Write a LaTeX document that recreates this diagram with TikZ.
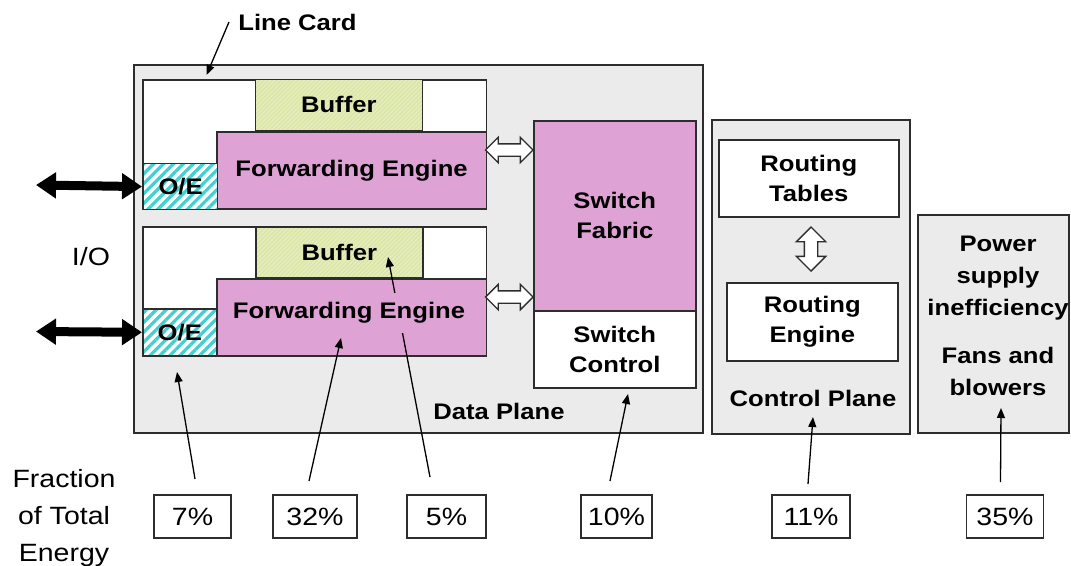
\documentclass[tikz,border=0pt]{standalone}
\usepackage{fontspec}
\setmainfont[FakeStretch=1.14]{Liberation Sans}
\usetikzlibrary{shapes.arrows,patterns.meta,arrows.meta,calc}
\definecolor{bggray}{RGB}{235,235,235}
\definecolor{edge}{RGB}{45,45,45}
\definecolor{fepink}{RGB}{222,162,212}
\definecolor{bufgreen}{RGB}{228,236,184}
\definecolor{bufline}{RGB}{212,224,160}
\definecolor{oecyan}{RGB}{64,208,208}
\begin{document}
\begin{tikzpicture}[x=1pt,y=-1pt,
  box/.style={draw=edge,line width=1.6pt,inner sep=0pt,anchor=north west},
  bf/.style={font=\fontsize{22.5}{30}\selectfont\bfseries,align=center},
  rg/.style={font=\fontsize{25}{37}\selectfont,align=center},
  pinkbox/.style={box,fill=fepink},
  bufbox/.style={box,preaction={fill=bufgreen},pattern={Lines[angle=45,distance=3pt,line width=0.6pt]},pattern color=bufline},
  oebox/.style={box,preaction={fill=white},pattern={Lines[angle=45,distance=7pt,line width=3.2pt]},pattern color=oecyan},
  hollow/.style={shape=double arrow,draw=edge,fill=white,line width=1.4pt,inner sep=0pt,double arrow head extend=6.5pt},
  bigarr/.style={line width=9pt,{Triangle[length=20pt,width=25pt]}-{Triangle[length=20pt,width=25pt]}},
  ptr/.style={draw=black,line width=1.3pt,-{Triangle[length=10pt,width=8pt]}},
  pct/.style={draw=edge,line width=1.3pt,fill=white,font=\fontsize{25}{30}\selectfont,inner sep=0pt}]
\fill[white] (0,0) rectangle (1071,565);
\useasboundingbox (0,0) rectangle (1071,565);

% Data plane
\node[box,fill=bggray,minimum width=569,minimum height=368] (dp) at (133,64) {};
% line card 1
\node[box,fill=white,minimum width=343.5,minimum height=129] (lc1) at (142,79) {};
\node[bufbox,minimum width=167,minimum height=51,bf] (buf1) at (255,79) {Buffer};
\node[pinkbox,minimum width=269.5,minimum height=77,bf] (fe1) at (216,131) {Forwarding Engine};
\node[oebox,minimum width=74,minimum height=46,bf] (oe1) at (142,162) {O/E};
% line card 2
\node[box,fill=white,minimum width=343.5,minimum height=129] (lc2) at (142,226) {};
\node[bufbox,minimum width=167,minimum height=51,bf] (buf2) at (255,226) {Buffer};
\node[pinkbox,minimum width=269.5,minimum height=77] (fe2) at (216,278) {};
\node[oebox,minimum width=74,minimum height=47,bf] (oe2) at (142,308) {O/E};
% switch
\node[pinkbox,minimum width=162,minimum height=190,bf] (sf) at (533,120) {Switch\\Fabric};
\node[box,fill=white,minimum width=162,minimum height=77,bf] (sc) at (533,310) {Switch\\Control};
\node[bf] (dpl) at (499,411) {Data Plane};

% control plane
\node[box,fill=bggray,minimum width=198,minimum height=314] (cp) at (711,119) {};
\node[box,fill=white,minimum width=180,minimum height=77,bf] (rt) at (718,139) {Routing\\Tables};
\node[box,fill=white,minimum width=171,minimum height=78,bf] (re) at (726,282) {Routing\\Engine};
\node[bf] (cpl) at (813,398) {Control Plane};

% power
\node[box,fill=bggray,minimum width=151,minimum height=218] (ps) at (917,214) {};
\node[bf,font=\fontsize{22.5}{32}\selectfont\bfseries] (psl) at (998,278) {Power\\supply\\inefficiency};
\node[bf,font=\fontsize{22.5}{32}\selectfont\bfseries] (fan) at (998,371) {Fans and\\blowers};

% hollow double arrows
\node[hollow,minimum height=47.5] (ha1) at (509.25,150) {\rule{0pt}{11pt}};
\node[hollow,minimum height=47.5] (ha2) at (509.25,297) {\rule{0pt}{11pt}};
\node[hollow,rotate=90,minimum height=44,double arrow head extend=8pt] (ha3) at (811,249) {\rule{0pt}{12pt}};

% I/O
\coordinate (io1) at (36,185);
\coordinate (io2) at (36,331.5);
\draw[bigarr] (io1) -- (oe1.west);
\draw[bigarr] (io2) -- (oe2.west);
\node[rg] (iol) at (91,257) {I/O};

% Line card label
\node[bf] (lcl) at (297.5,22) {Line Card};
\coordinate (lcA) at (229,22);
\coordinate (lcB) at (206.5,75);
\draw[ptr] (lcA) -- (lcB);

% percentages
\node[rg] (frac) at (64,518) {Fraction\\of Total\\Energy};
\node[pct,minimum width=77,minimum height=43] (p7) at (192.5,516.5) {7\%};
\node[pct,minimum width=84,minimum height=43] (p32) at (315,516.5) {32\%};
\node[pct,minimum width=79,minimum height=43] (p5) at (446.5,516.5) {5\%};
\node[pct,minimum width=71,minimum height=43] (p10) at (616.5,516.5) {10\%};
\node[pct,minimum width=78,minimum height=43] (p11) at (811,516.5) {11\%};
\node[pct,minimum width=77.5,minimum height=43] (p35) at (1005,516.5) {35\%};

\coordinate (s7) at (195,479);   \coordinate (t7) at (177,372);
\coordinate (s32) at (309,481);  \coordinate (t32) at (341,338);
\coordinate (s5) at (430,477);   \coordinate (t5) at (388,257);
\coordinate (s10) at (610,481);  \coordinate (t10) at (628,394);
\coordinate (s11) at (808,484);  \coordinate (t11) at (813,417);
\coordinate (s35) at (1000.5,482); \coordinate (t35) at (1001,408);
\draw[ptr] (s7) -- (t7);
\draw[ptr] (s32) -- (t32);
\draw[ptr] (s5) -- (t5);
\draw[ptr] (s10) -- (t10);
\draw[ptr] (s11) -- (t11);
\draw[ptr] (s35) -- (t35);

% lower forwarding engine label (covers the 5% pointer)
\node[bf,fill=fepink,inner xsep=1pt,inner ysep=9pt] (fe2l) at (349,313) {Forwarding Engine};
\end{tikzpicture}
\end{document}
